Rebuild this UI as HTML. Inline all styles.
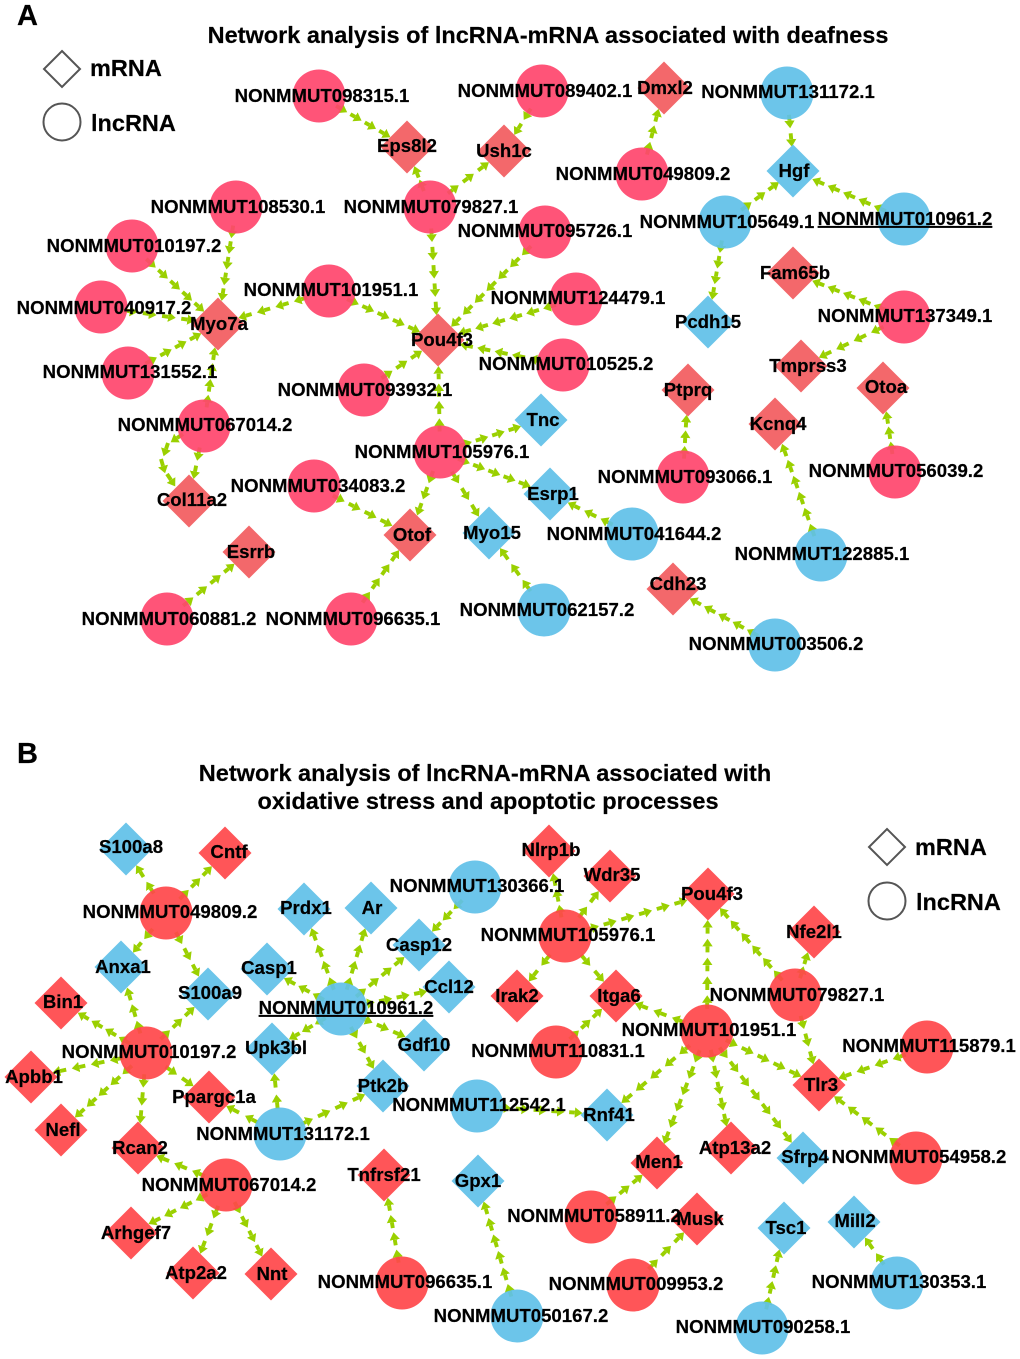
<!DOCTYPE html>
<html><head><meta charset="utf-8"><title>Network analysis</title>
<style>
html,body{margin:0;padding:0;background:#fff}
svg{display:block}
text{font-family:"Liberation Sans",Arial,sans-serif;font-weight:bold;fill:#000;stroke:#000;stroke-width:.2}
.l text{font-size:18.6px;text-anchor:middle}
.t{font-size:23.5px;text-anchor:middle}
.h{font-size:29px}
.g{font-size:23.5px}
.p{fill:#ff456c;fill-opacity:.92}
.pd{fill:#f25b5e;fill-opacity:.92}
.b{fill:#5fc0e8;fill-opacity:.92}
.r{fill:#ff464a;fill-opacity:.92}
</style></head><body>
<svg xmlns="http://www.w3.org/2000/svg" width="1020" height="1359" viewBox="0 0 1020 1359">
<defs>
<path id="d" d="M0-26.5 26.5 0 0 26.5-26.5 0z"/>
<marker id="m" markerUnits="userSpaceOnUse" markerWidth="9" markerHeight="12" viewBox="0 -6 9 12" refX="0" refY="0" orient="auto"><path d="M0-5.2 7.6 0 0 5.2z" fill="#9ad000"/></marker>
</defs>
<rect width="1020" height="1359" fill="#fff"/>
<g fill="none" stroke="#9ad000" stroke-width="3.9" stroke-dasharray=".32 .68" stroke-dashoffset=".32" marker-mid="url(#m)" marker-end="url(#m)">
<!-- Panel A connectors -->
<path pathLength="4" d="M326.2 100.2l14.4 8.3 14.4 8.3 14.4 8.3 14.4 8.3"/>
<path pathLength="2" d="M427.4 200.2l-5.2-13.5-5.2-13.5"/>
<path pathLength="3" d="M437.6 201.3l15.1-11.5 15.1-11.5 15.1-11.5"/>
<path pathLength="2" d="M537.3 98.5l-9.5 15-9.5 15"/>
<path pathLength="3" d="M644.1 165.8l4.2-16.5 4.2-16.5 4.2-16.5"/>
<path pathLength="2" d="M787.8 102.2l1.7 18.5 1.7 18.5"/>
<path pathLength="3" d="M731.8 216.9l13.7-10.1 13.7-10.1 13.7-10.1"/>
<path pathLength="5" d="M896.3 215.6l-15.4-6.7-15.4-6.7-15.4-6.7-15.4-6.7-15.4-6.7"/>
<path pathLength="4" d="M723.7 229.8l-2.6 15.6-2.6 15.6-2.6 15.6-2.6 15.6"/>
<path pathLength="5" d="M896.3 314l-15.4-6.1-15.4-6.1-15.4-6.1-15.4-6.1-15.4-6.1"/>
<path pathLength="4" d="M895.3 321.1l-17.4 8.3-17.4 8.3-17.4 8.3-17.4 8.3"/>
<path pathLength="5" d="M430.5 216.1l1.1 18.3 1.1 18.3 1.1 18.3 1.1 18.3 1.1 18.3"/>
<path pathLength="7" d="M539.1 238l-11.8 11.9-11.8 11.9-11.8 11.9-11.8 11.9-11.8 11.9-11.8 11.9-11.8 11.9"/>
<path pathLength="5" d="M336.6 294.4l15.3 6.9 15.3 6.9 15.3 6.9 15.3 6.9 15.3 6.9"/>
<path pathLength="6" d="M567.5 301.5l-17 5-17 5-17 5-17 5-17 5-17 5"/>
<path pathLength="5" d="M554.3 363.3l-17.4-3.5-17.4-3.5-17.4-3.5-17.4-3.5-17.4-3.5"/>
<path pathLength="3" d="M371.4 385l14.8-10 14.8-10 14.8-10"/>
<path pathLength="4" d="M439.8 443.3l-.3-17.4-.3-17.4-.3-17.4-.3-17.4"/>
<path pathLength="5" d="M234.8 214.9l-2.4 15.7-2.4 15.7-2.4 15.7-2.4 15.7-2.4 15.7"/>
<path pathLength="5" d="M138 251.5l12.1 11 12.1 11 12.1 11 12.1 11 12.1 11"/>
<path pathLength="4" d="M110.6 308.4l19.2 2.8 19.2 2.8 19.2 2.8 19.2 2.8"/>
<path pathLength="4" d="M319.7 293.8l-18.5 5.5-18.5 5.5-18.5 5.5-18.5 5.5"/>
<path pathLength="4" d="M135.4 369l14.8-8 14.8-8 14.8-8 14.8-8"/>
<path pathLength="4" d="M205.1 418.1l2.2-15.8 2.2-15.8 2.2-15.8 2.2-15.8"/>
<path pathLength="2" d="M202.2 435.1l-3.6 18.2-3.6 18.2"/>
<path pathLength="4" d="M448.2 449.4l16.4-5.2 16.4-5.2 16.4-5.2 16.4-5.2"/>
<path pathLength="5" d="M447.6 454.9l15.2 5.8 15.2 5.8 15.2 5.8 15.2 5.8 15.2 5.8"/>
<path pathLength="3" d="M445 460.3l10 16.6 10 16.6 10 16.6"/>
<path pathLength="3" d="M437.1 460l-5.8 16.1-5.8 16.1-5.8 16.1"/>
<path pathLength="4" d="M322 490l15.9 8.1 15.9 8.1 15.9 8.1 15.9 8.1"/>
<path pathLength="4" d="M355.9 612l9.7-13.9 9.7-13.9 9.7-13.9 9.7-13.9"/>
<path pathLength="3" d="M623.8 530l-16.4-8-16.4-8-16.4-8"/>
<path pathLength="3" d="M538.3 602l-11.3-15.9-11.3-15.9-11.3-15.9"/>
<path pathLength="4" d="M173.8 613.4l13.7-11.2 13.7-11.2 13.7-11.2 13.7-11.2"/>
<path pathLength="5" d="M767.9 641.1l-14.3-7.8-14.3-7.8-14.3-7.8-14.3-7.8-14.3-7.8"/>
<path pathLength="3" d="M683.4 469.2l.9-15.6.9-15.6.9-15.6"/>
<path pathLength="3" d="M893.9 464.4l-2.2-15.2-2.2-15.2-2.2-15.2"/>
<path pathLength="6" d="M818.2 547l-5.6-16-5.6-16-5.6-16-5.6-16-5.6-16-5.6-16"/>
<!-- Panel B connectors -->
<path pathLength="2" d="M160.8 904.7l-10.3-16.5-10.3-16.5"/>
<path pathLength="3" d="M171.8 907.1l11.6-11.8 11.6-11.8 11.6-11.8"/>
<path pathLength="2" d="M160.4 919.8l-11.3 13.5-11.3 13.5"/>
<path pathLength="3" d="M170.2 921.1l8.4 16.2 8.4 16.2 8.4 16.2"/>
<path pathLength="3" d="M143.6 1044.7l-4.8-16.6-4.8-16.6-4.8-16.6"/>
<path pathLength="3" d="M152.2 1047.2l12.3-11.7 12.3-11.7 12.3-11.7"/>
<path pathLength="4" d="M139.1 1049l-13.7-8.1-13.7-8.1-13.7-8.1-13.7-8.1"/>
<path pathLength="4" d="M136.5 1055l-19.1 4-19.1 4-19.1 4-19.1 4"/>
<path pathLength="5" d="M140 1058.4l-11.9 10.8-11.9 10.8-11.9 10.8-11.9 10.8-11.9 10.8"/>
<path pathLength="3" d="M145.3 1062l-1.5 18-1.5 18-1.5 18"/>
<path pathLength="2" d="M154.3 1058.8l16.5 11.5 16.5 11.5"/>
<path pathLength="3" d="M217 1181.2l-17.9-7.5-17.9-7.5-17.9-7.5"/>
<path pathLength="4" d="M218.1 1189l-15.7 7.9-15.7 7.9-15.7 7.9-15.7 7.9"/>
<path pathLength="3" d="M222.7 1193.8l-6.6 17.6-6.6 17.6-6.6 17.6"/>
<path pathLength="4" d="M229.6 1192.2l7.3 14.4 7.3 14.4 7.3 14.4 7.3 14.4"/>
<path pathLength="2" d="M270.6 1129.1l-18.8-9.8-18.8-9.8"/>
<path pathLength="2" d="M279 1123.4l-2-21.3-2-21.3"/>
<path pathLength="4" d="M288.7 1130l17.4-8.1 17.4-8.1 17.4-8.1 17.4-8.1"/>
<path pathLength="4" d="M338 1000.8l-6-16.4-6-16.4-6-16.4-6-16.4"/>
<path pathLength="4" d="M343.4 1000.8l4.9-16.3 4.9-16.3 4.9-16.3 4.9-16.3"/>
<path pathLength="4" d="M347.4 1003.8l12.8-10.5 12.8-10.5 12.8-10.5 12.8-10.5"/>
<path pathLength="3" d="M333.8 1005.1l-14.4-7.8-14.4-7.8-14.4-7.8"/>
<path pathLength="4" d="M349.7 1007.2l17.5-3.6 17.5-3.6 17.5-3.6 17.5-3.6"/>
<path pathLength="3" d="M349.2 1012.6l16.4 7.1 16.4 7.1 16.4 7.1"/>
<path pathLength="3" d="M334.5 1012.8l-13 7.6-13 7.6-13 7.6"/>
<path pathLength="3" d="M345.2 1016.6l8.3 15.2 8.3 15.2 8.3 15.2"/>
<path pathLength="3" d="M469.6 892.6l-10.8 11.2-10.8 11.2-10.8 11.2"/>
<path pathLength="3" d="M563.5 928.1l-3-15.8-3-15.8-3-15.8"/>
<path pathLength="2" d="M570.8 928.2l11.7-15.5 11.7-15.5"/>
<path pathLength="6" d="M573.9 933.4l17.7-5.2 17.7-5.2 17.7-5.2 17.7-5.2 17.7-5.2 17.7-5.2"/>
<path pathLength="2" d="M558.7 943.9l-12.6 15.8-12.6 15.8"/>
<path pathLength="2" d="M571.8 944l13.6 16 13.6 16"/>
<path pathLength="3" d="M561.8 1046.6l11.6-10.9 11.6-10.9 11.6-10.9"/>
<path pathLength="3" d="M697.7 1027.4l-18.6-7.1-18.6-7.1-18.6-7.1"/>
<path pathLength="5" d="M707.1 1021.6l.1-18.8.1-18.8.1-18.8.1-18.8.1-18.8"/>
<path pathLength="5" d="M715 1034.8l15.9 7.7 15.9 7.7 15.9 7.7 15.9 7.7 15.9 7.7"/>
<path pathLength="5" d="M699.7 1037.1l-14.5 12.2-14.5 12.2-14.5 12.2-14.5 12.2-14.5 12.2"/>
<path pathLength="6" d="M703.9 1039.1l-6.2 16.3-6.2 16.3-6.2 16.3-6.2 16.3-6.2 16.3-6.2 16.3"/>
<path pathLength="5" d="M708.6 1039l3.3 16 3.3 16 3.3 16 3.3 16 3.3 16"/>
<path pathLength="7" d="M712.3 1038l10.7 14.1 10.7 14.1 10.7 14.1 10.7 14.1 10.7 14.1 10.7 14.1 10.7 14.1"/>
<path pathLength="6" d="M789.6 988.8l-10.8-12.5-10.8-12.5-10.8-12.5-10.8-12.5-10.8-12.5-10.8-12.5"/>
<path pathLength="2" d="M797.1 987.9l4.3-14.2 4.3-14.2"/>
<path pathLength="3" d="M797.4 1003.9l4.7 17.7 4.7 17.7 4.7 17.7"/>
<path pathLength="4" d="M918 1050.2l-18.1 6.4-18.1 6.4-18.1 6.4-18.1 6.4"/>
<path pathLength="5" d="M909.1 1152.8l-13.8-10.4-13.8-10.4-13.8-10.4-13.8-10.4-13.8-10.4"/>
<path pathLength="5" d="M485.9 1106.6l17.8 1.2 17.8 1.2 17.8 1.2 17.8 1.2 17.8 1.2"/>
<path pathLength="3" d="M597.5 1211.7l13.1-10.7 13.1-10.7 13.1-10.7"/>
<path pathLength="3" d="M639.5 1278.3l13.1-13.5 13.1-13.5 13.1-13.5"/>
<path pathLength="4" d="M400.6 1274.4l-2.9-17.3-2.9-17.3-2.9-17.3-2.9-17.3"/>
<path pathLength="6" d="M514.6 1307.8l-4.8-16.5-4.8-16.5-4.8-16.5-4.8-16.5-4.8-16.5-4.8-16.5"/>
<path pathLength="4" d="M763.8 1320.1l3.5-15.8 3.5-15.8 3.5-15.8 3.5-15.8"/>
<path pathLength="2" d="M891.5 1275.2l-11.1-15.7-11.1-15.7"/>
</g>
<!-- curved Col11a2 connector -->
<g fill="none" stroke="#9ad000" stroke-width="3.9" marker-end="url(#m)">
<path d="M183 434 177 438"/>
<path d="M168 443 166 449"/>
<path d="M161 459 163 466"/>
<path d="M167 474 171 480"/>
</g>
<g>
<!-- Panel A lncRNA -->
<circle class="p" cx="319" cy="96" r="26.5"/>
<circle class="p" cx="542" cy="91" r="26.5"/>
<circle class="b" cx="787" cy="93" r="26.5"/>
<circle class="p" cx="642" cy="174" r="26.5"/>
<circle class="p" cx="430" cy="207" r="26.5"/>
<circle class="p" cx="236" cy="207" r="26.5"/>
<circle class="p" cx="132" cy="246" r="26.5"/>
<circle class="p" cx="545" cy="232" r="26.5"/>
<circle class="b" cx="725" cy="222" r="26.5"/>
<circle class="b" cx="904" cy="219" r="26.5"/>
<circle class="p" cx="101" cy="307" r="26.5"/>
<circle class="p" cx="329" cy="291" r="26.5"/>
<circle class="p" cx="576" cy="299" r="26.5"/>
<circle class="p" cx="904" cy="317" r="26.5"/>
<circle class="p" cx="128" cy="373" r="26.5"/>
<circle class="p" cx="563" cy="365" r="26.5"/>
<circle class="p" cx="364" cy="390" r="26.5"/>
<circle class="p" cx="204" cy="426" r="26.5"/>
<circle class="p" cx="440" cy="452" r="26.5"/>
<circle class="p" cx="683" cy="477" r="26.5"/>
<circle class="p" cx="895" cy="472" r="26.5"/>
<circle class="p" cx="314" cy="486" r="26.5"/>
<circle class="b" cx="632" cy="534" r="26.5"/>
<circle class="b" cx="821" cy="555" r="26.5"/>
<circle class="p" cx="167" cy="619" r="26.5"/>
<circle class="p" cx="351" cy="619" r="26.5"/>
<circle class="b" cx="544" cy="610" r="26.5"/>
<circle class="b" cx="775" cy="645" r="26.5"/>
<!-- Panel A mRNA -->
<use href="#d" class="pd" x="407" y="147"/>
<use href="#d" class="pd" x="504" y="151"/>
<use href="#d" class="pd" x="664" y="88"/>
<use href="#d" class="b" x="793" y="171"/>
<use href="#d" class="pd" x="793" y="273"/>
<use href="#d" class="b" x="708" y="322"/>
<use href="#d" class="pd" x="218" y="324"/>
<use href="#d" class="pd" x="438" y="340"/>
<use href="#d" class="pd" x="801" y="366"/>
<use href="#d" class="pd" x="688" y="390"/>
<use href="#d" class="pd" x="883" y="388"/>
<use href="#d" class="pd" x="775" y="424"/>
<use href="#d" class="b" x="541" y="420"/>
<use href="#d" class="b" x="550" y="494"/>
<use href="#d" class="pd" x="189" y="501"/>
<use href="#d" class="pd" x="410" y="535"/>
<use href="#d" class="b" x="489" y="533"/>
<use href="#d" class="pd" x="249" y="552"/>
<use href="#d" class="pd" x="673" y="589"/>
<!-- Panel B lncRNA -->
<circle class="r" cx="166" cy="913" r="26.5"/>
<circle class="b" cx="475" cy="887" r="26.5"/>
<circle class="r" cx="565" cy="936" r="26.5"/>
<circle class="r" cx="146" cy="1053" r="26.5"/>
<circle class="b" cx="341" cy="1009" r="26.5"/>
<circle class="r" cx="795" cy="995" r="26.5"/>
<circle class="r" cx="707" cy="1031" r="26.5"/>
<circle class="r" cx="927" cy="1047" r="26.5"/>
<circle class="r" cx="556" cy="1052" r="26.5"/>
<circle class="b" cx="477" cy="1106" r="26.5"/>
<circle class="b" cx="280" cy="1134" r="26.5"/>
<circle class="r" cx="916" cy="1158" r="26.5"/>
<circle class="r" cx="226" cy="1185" r="26.5"/>
<circle class="r" cx="591" cy="1217" r="26.5"/>
<circle class="r" cx="633" cy="1285" r="26.5"/>
<circle class="r" cx="402" cy="1283" r="26.5"/>
<circle class="b" cx="517" cy="1316" r="26.5"/>
<circle class="b" cx="762" cy="1328" r="26.5"/>
<circle class="b" cx="897" cy="1283" r="26.5"/>
<!-- Panel B mRNA -->
<use href="#d" class="b" x="126" y="849"/>
<use href="#d" class="r" x="225" y="853"/>
<use href="#d" class="b" x="304" y="909"/>
<use href="#d" class="b" x="371" y="908"/>
<use href="#d" class="r" x="549" y="851"/>
<use href="#d" class="r" x="610" y="876"/>
<use href="#d" class="r" x="708" y="894"/>
<use href="#d" class="r" x="814" y="932"/>
<use href="#d" class="b" x="419" y="945"/>
<use href="#d" class="b" x="267" y="969"/>
<use href="#d" class="b" x="121" y="967"/>
<use href="#d" class="r" x="61" y="1003"/>
<use href="#d" class="b" x="208" y="994"/>
<use href="#d" class="b" x="449" y="987"/>
<use href="#d" class="r" x="517" y="996"/>
<use href="#d" class="r" x="616" y="996"/>
<use href="#d" class="b" x="424" y="1045"/>
<use href="#d" class="b" x="272" y="1049"/>
<use href="#d" class="r" x="31" y="1077"/>
<use href="#d" class="b" x="383" y="1086"/>
<use href="#d" class="r" x="209" y="1097"/>
<use href="#d" class="r" x="819" y="1085"/>
<use href="#d" class="b" x="607" y="1115"/>
<use href="#d" class="r" x="61" y="1130"/>
<use href="#d" class="r" x="138" y="1148"/>
<use href="#d" class="r" x="657" y="1163"/>
<use href="#d" class="r" x="731" y="1148"/>
<use href="#d" class="b" x="803" y="1158"/>
<use href="#d" class="r" x="384" y="1175"/>
<use href="#d" class="b" x="478" y="1181"/>
<use href="#d" class="r" x="131" y="1233"/>
<use href="#d" class="r" x="697" y="1219"/>
<use href="#d" class="b" x="784" y="1228"/>
<use href="#d" class="b" x="854" y="1222"/>
<use href="#d" class="r" x="193" y="1273"/>
<use href="#d" class="r" x="271" y="1274"/>
</g>
<!-- Headings and legends -->
<text class="h" x="17" y="25">A</text>
<text class="h" x="17" y="763">B</text>
<text class="t" x="548" y="43">Network analysis of lncRNA-mRNA associated with deafness</text>
<text class="t" x="485" y="781">Network analysis of lncRNA-mRNA associated with</text>
<text class="t" x="488" y="809">oxidative stress and apoptotic processes</text>
<g fill="#fff" stroke="#555" stroke-width="2">
<path d="M62 51 80 69 62 87 44 69z"/><circle cx="62" cy="122" r="18.5"/>
<path d="M887 829 905 847 887 865 869 847z"/><circle cx="887" cy="901" r="18.5"/>
</g>
<text class="g" x="90" y="76">mRNA</text>
<text class="g" x="91" y="131">lncRNA</text>
<text class="g" x="915" y="855">mRNA</text>
<text class="g" x="916" y="910">lncRNA</text>
<g class="l">
<text x="322" y="102">NONMMUT098315.1</text>
<text x="545" y="97">NONMMUT089402.1</text>
<text x="788" y="98">NONMMUT131172.1</text>
<text x="643" y="180">NONMMUT049809.2</text>
<text x="431" y="213">NONMMUT079827.1</text>
<text x="238" y="213">NONMMUT108530.1</text>
<text x="134" y="252">NONMMUT010197.2</text>
<text x="545" y="237">NONMMUT095726.1</text>
<text x="727" y="228">NONMMUT105649.1</text>
<text x="905" y="225" text-decoration="underline">NONMMUT010961.2</text>
<text x="104" y="314">NONMMUT040917.2</text>
<text x="331" y="296">NONMMUT101951.1</text>
<text x="578" y="304">NONMMUT124479.1</text>
<text x="905" y="322">NONMMUT137349.1</text>
<text x="130" y="378">NONMMUT131552.1</text>
<text x="566" y="370">NONMMUT010525.2</text>
<text x="365" y="396">NONMMUT093932.1</text>
<text x="205" y="431">NONMMUT067014.2</text>
<text x="442" y="458">NONMMUT105976.1</text>
<text x="685" y="483">NONMMUT093066.1</text>
<text x="896" y="477">NONMMUT056039.2</text>
<text x="318" y="492">NONMMUT034083.2</text>
<text x="634" y="540">NONMMUT041644.2</text>
<text x="822" y="560">NONMMUT122885.1</text>
<text x="169" y="625">NONMMUT060881.2</text>
<text x="353" y="625">NONMMUT096635.1</text>
<text x="547" y="616">NONMMUT062157.2</text>
<text x="776" y="650">NONMMUT003506.2</text>
<text x="407" y="152">Eps8l2</text>
<text x="504" y="157">Ush1c</text>
<text x="665" y="94">Dmxl2</text>
<text x="794" y="177">Hgf</text>
<text x="795" y="279">Fam65b</text>
<text x="708" y="328">Pcdh15</text>
<text x="219" y="330">Myo7a</text>
<text x="442" y="346">Pou4f3</text>
<text x="808" y="372">Tmprss3</text>
<text x="688" y="396">Ptprq</text>
<text x="886" y="393">Otoa</text>
<text x="778" y="430">Kcnq4</text>
<text x="543" y="426">Tnc</text>
<text x="553" y="500">Esrp1</text>
<text x="192" y="506">Col11a2</text>
<text x="412" y="541">Otof</text>
<text x="492" y="539">Myo15</text>
<text x="251" y="558">Esrrb</text>
<text x="678" y="590">Cdh23</text>
<text x="170" y="918">NONMMUT049809.2</text>
<text x="477" y="892">NONMMUT130366.1</text>
<text x="568" y="941">NONMMUT105976.1</text>
<text x="149" y="1058">NONMMUT010197.2</text>
<text x="346" y="1014" text-decoration="underline">NONMMUT010961.2</text>
<text x="797" y="1001">NONMMUT079827.1</text>
<text x="709" y="1036">NONMMUT101951.1</text>
<text x="929" y="1052">NONMMUT115879.1</text>
<text x="558" y="1057">NONMMUT110831.1</text>
<text x="479" y="1111">NONMMUT112542.1</text>
<text x="283" y="1140">NONMMUT131172.1</text>
<text x="919" y="1163">NONMMUT054958.2</text>
<text x="229" y="1191">NONMMUT067014.2</text>
<text x="594" y="1222">NONMMUT058911.2</text>
<text x="636" y="1290">NONMMUT009953.2</text>
<text x="405" y="1288">NONMMUT096635.1</text>
<text x="521" y="1322">NONMMUT050167.2</text>
<text x="763" y="1333">NONMMUT090258.1</text>
<text x="899" y="1288">NONMMUT130353.1</text>
<text x="131" y="853">S100a8</text>
<text x="229" y="858">Cntf</text>
<text x="306" y="914">Prdx1</text>
<text x="372" y="914">Ar</text>
<text x="551" y="856">Nlrp1b</text>
<text x="612" y="881">Wdr35</text>
<text x="712" y="900">Pou4f3</text>
<text x="814" y="938">Nfe2l1</text>
<text x="419" y="951">Casp12</text>
<text x="269" y="974">Casp1</text>
<text x="123" y="973">Anxa1</text>
<text x="63" y="1008">Bin1</text>
<text x="210" y="999">S100a9</text>
<text x="449" y="993">Ccl12</text>
<text x="517" y="1002">Irak2</text>
<text x="619" y="1002">Itga6</text>
<text x="424" y="1051">Gdf10</text>
<text x="276" y="1054">Upk3bl</text>
<text x="34" y="1083">Apbb1</text>
<text x="383" y="1092">Ptk2b</text>
<text x="214" y="1103">Ppargc1a</text>
<text x="821" y="1091">Tlr3</text>
<text x="609" y="1121">Rnf41</text>
<text x="63" y="1136">Nefl</text>
<text x="140" y="1154">Rcan2</text>
<text x="659" y="1168">Men1</text>
<text x="735" y="1154">Atp13a2</text>
<text x="805" y="1163">Sfrp4</text>
<text x="384" y="1181">Tnfrsf21</text>
<text x="478" y="1187">Gpx1</text>
<text x="136" y="1239">Arhgef7</text>
<text x="700" y="1225">Musk</text>
<text x="786" y="1234">Tsc1</text>
<text x="855" y="1227">Mill2</text>
<text x="196" y="1279">Atp2a2</text>
<text x="272" y="1280">Nnt</text>
</g>
</svg>
</body></html>
